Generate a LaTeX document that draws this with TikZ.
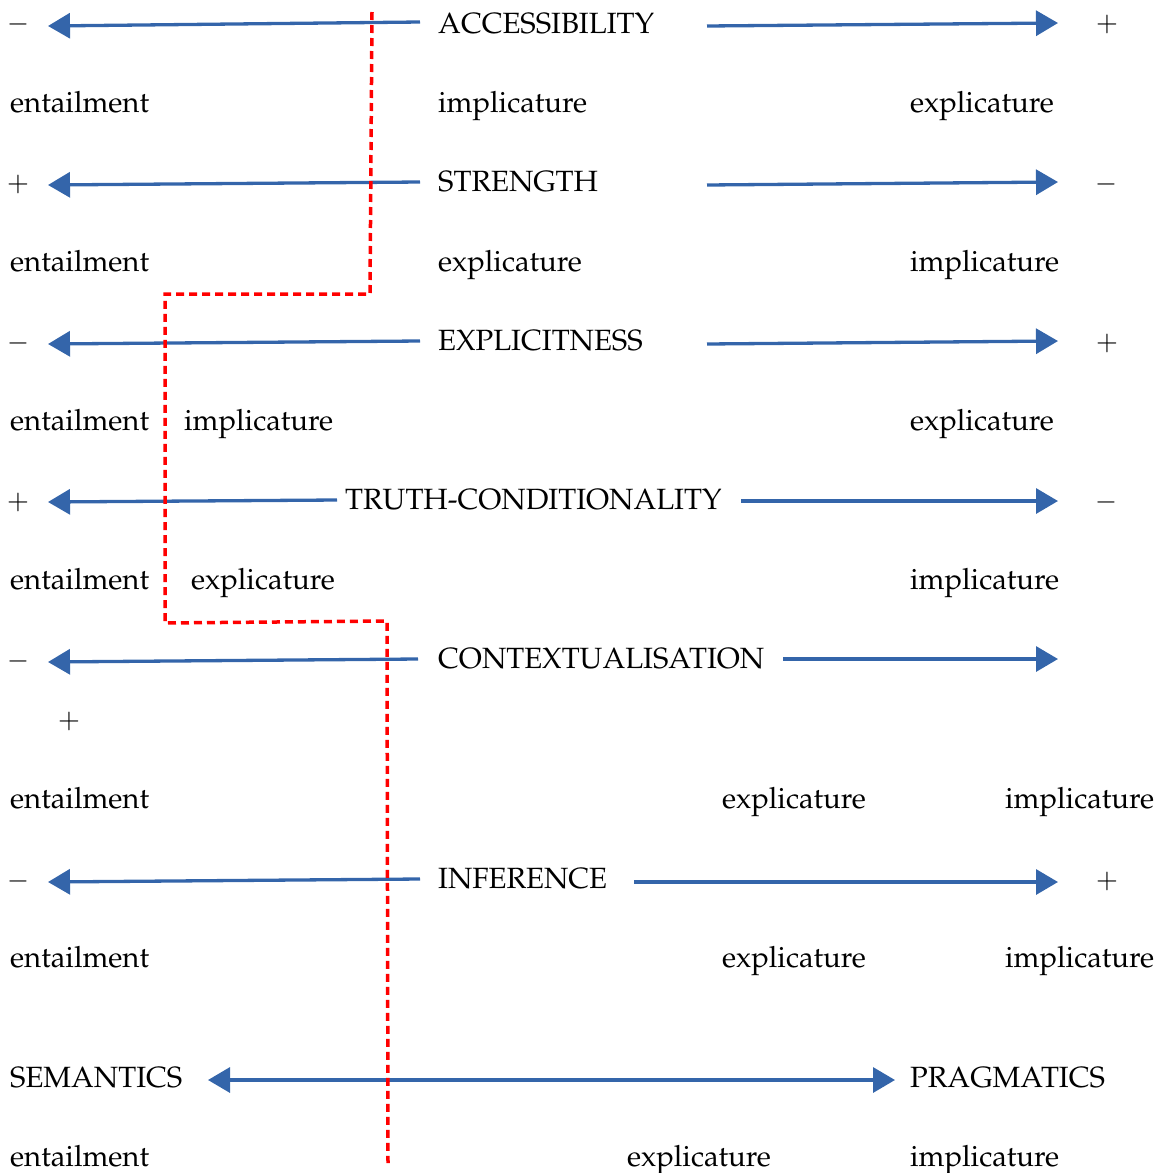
\documentclass[tikz,border=0pt]{standalone}
\usepackage[T1]{fontenc}
\usepackage{mathpazo}
\usetikzlibrary{arrows.meta}
\definecolor{arrowblue}{RGB}{52,101,170}
\begin{document}
\begin{tikzpicture}[x=1pt,y=-1pt,
  lbl/.style={anchor=base west,inner sep=0pt,font=\fontsize{29.3}{34}\selectfont},
  sgn/.style={anchor=center,inner sep=0pt,font=\fontsize{27}{30}\selectfont},
  conn/.style={draw=arrowblue,line width=3.3pt,-{Triangle[length=22pt,width=25pt]}},
  dconn/.style={draw=arrowblue,line width=3.3pt,{Triangle[length=22pt,width=25pt]}-{Triangle[length=22pt,width=25pt]}},
  redline/.style={draw=red,line width=3.5pt,dash pattern=on 8pt off 5pt}]
\useasboundingbox (0,0) rectangle (1163,1173);
% Row 1
\node[sgn] (s1l) at (18,24) {$-$};
\node[sgn] (s1r) at (1107,24) {$+$};
\node[lbl] (t1) at (438,33) {ACCESSIBILITY};
\coordinate (a1ls) at (420,22); \coordinate (a1le) at (48,26);
\coordinate (a1rs) at (707,26); \coordinate (a1re) at (1058,23);
\draw[conn] (a1ls) -- (a1le);
\draw[conn] (a1rs) -- (a1re);
\node[lbl] (e1) at (10,112) {entailment};
\node[lbl] (m1) at (438,112) {implicature};
\node[lbl] (r1) at (910,112) {explicature};
% Row 2
\node[sgn] (s2l) at (18,184) {$+$};
\node[sgn] (s2r) at (1106,184) {$-$};
\node[lbl] (t2) at (438,191) {STRENGTH};
\coordinate (a2ls) at (420,182); \coordinate (a2le) at (48,185);
\coordinate (a2rs) at (707,185); \coordinate (a2re) at (1058,182);
\draw[conn] (a2ls) -- (a2le);
\draw[conn] (a2rs) -- (a2re);
\node[lbl] (e2) at (10,271) {entailment};
\node[lbl] (m2) at (438,271) {explicature};
\node[lbl] (r2) at (910,271) {implicature};
% Row 3
\node[sgn] (s3l) at (18,343) {$-$};
\node[sgn] (s3r) at (1107,343) {$+$};
\node[lbl] (t3) at (438,350) {EXPLICITNESS};
\coordinate (a3ls) at (420,341); \coordinate (a3le) at (48,344);
\coordinate (a3rs) at (707,344); \coordinate (a3re) at (1058,341);
\draw[conn] (a3ls) -- (a3le);
\draw[conn] (a3rs) -- (a3re);
\node[lbl] (e3) at (10,430) {entailment};
\node[lbl] (m3) at (184,430) {implicature};
\node[lbl] (r3) at (910,430) {explicature};
% Row 4
\node[sgn] (s4l) at (18,502) {$+$};
\node[sgn] (s4r) at (1106,502) {$-$};
\node[lbl] (t4) at (345,509) {TRUTH-CONDITIONALITY};
\coordinate (a4ls) at (337,500); \coordinate (a4le) at (48,502);
\coordinate (a4rs) at (741,501); \coordinate (a4re) at (1058,501);
\draw[conn] (a4ls) -- (a4le);
\draw[conn] (a4rs) -- (a4re);
\node[lbl] (e4) at (10,589) {entailment};
\node[lbl] (m4) at (191,589) {explicature};
\node[lbl] (r4) at (910,589) {implicature};
% Row 5
\node[sgn] (s5l) at (18,661) {$-$};
\node[sgn] (s5b) at (69,721) {$+$};
\node[lbl] (t5) at (438,668) {CONTEXTUALISATION};
\coordinate (a5ls) at (418,659); \coordinate (a5le) at (48,662);
\coordinate (a5rs) at (783,659); \coordinate (a5re) at (1058,659);
\draw[conn] (a5ls) -- (a5le);
\draw[conn] (a5rs) -- (a5re);
\node[lbl] (e5) at (10,808) {entailment};
\node[lbl] (m5) at (722,808) {explicature};
\node[lbl] (r5) at (1005,808) {implicature};
% Row 6
\node[sgn] (s6l) at (18,881) {$-$};
\node[sgn] (s6r) at (1107,881) {$+$};
\node[lbl] (t6) at (438,888) {INFERENCE};
\coordinate (a6ls) at (420,879); \coordinate (a6le) at (48,882);
\coordinate (a6rs) at (634,882); \coordinate (a6re) at (1058,882);
\draw[conn] (a6ls) -- (a6le);
\draw[conn] (a6rs) -- (a6re);
\node[lbl] (e6) at (10,967) {entailment};
\node[lbl] (m6) at (722,967) {explicature};
\node[lbl] (r6) at (1005,967) {implicature};
% Row 7
\node[lbl] (sem) at (10,1087) {SEMANTICS};
\node[lbl] (prag) at (910,1087) {PRAGMATICS};
\coordinate (a7l) at (208,1080); \coordinate (a7r) at (895,1080);
\draw[dconn] (a7l) -- (a7r);
\node[lbl] (e7) at (10,1166) {entailment};
\node[lbl] (m7) at (627,1166) {explicature};
\node[lbl] (r7) at (910,1166) {implicature};
% red dashed boundary
\coordinate (b0) at (372,12);
\coordinate (b1) at (370,294);
\coordinate (b2) at (165,294);
\coordinate (b3) at (165,623);
\coordinate (b4) at (387,621);
\coordinate (b5) at (388,1163);
\draw[redline] (b0) -- (b1) -- (b2) -- (b3) -- (b4) -- (b5);
\end{tikzpicture}
\end{document}
